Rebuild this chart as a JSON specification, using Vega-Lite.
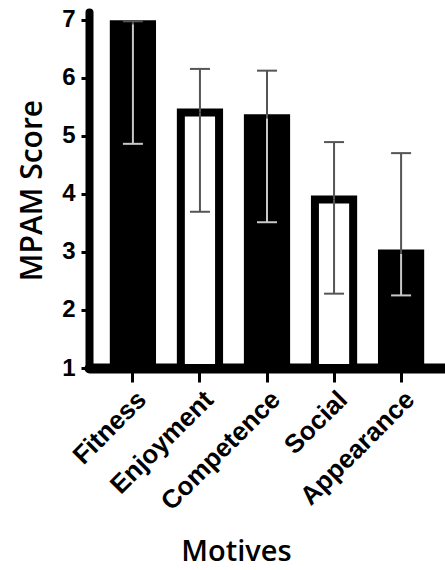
{
  "$schema": "https://vega.github.io/schema/vega-lite/v6.json",
  "width": 356,
  "height": 356,
  "autosize": "none",
  "padding": {"left": 89, "top": 12, "right": 0, "bottom": 202},
  "background": "white",
  "config": {"view": {"stroke": null}},
  "data": {
    "values": [
      {"motive": "Fitness", "group": "solid", "mean": 6.92, "lo": 4.86, "hi": 6.97},
      {"motive": "Enjoyment", "group": "open", "mean": 5.4, "lo": 3.69, "hi": 6.15},
      {"motive": "Competence", "group": "solid", "mean": 5.3, "lo": 3.51, "hi": 6.12},
      {"motive": "Social", "group": "open", "mean": 3.9, "lo": 2.28, "hi": 4.89},
      {"motive": "Appearance", "group": "solid", "mean": 2.97, "lo": 2.25, "hi": 4.7}
    ]
  },
  "encoding": {
    "x": {
      "field": "motive",
      "type": "nominal",
      "sort": null,
      "title": "Motives",
      "scale": {"paddingInner": 0.43, "paddingOuter": 0.37},
      "axis": {
        "domainColor": "black",
        "domainWidth": 10,
        "domainCap": "round",
        "tickColor": "black",
        "tickWidth": 3,
        "tickSize": 14,
        "labelAngle": -45,
        "labelFont": "Liberation Sans",
        "labelFontWeight": "bold",
        "labelFontSize": 26,
        "labelColor": "black",
        "labelPadding": 4,
        "titleFont": "Open Sans",
        "titleFontSize": 29,
        "titleFontWeight": 600,
        "titleColor": "black",
        "titlePadding": 23,
        "titleX": 147,
        "grid": false
      }
    }
  },
  "layer": [
    {
      "mark": {"type": "bar", "stroke": "black", "strokeWidth": 8, "strokeJoin": "miter"},
      "encoding": {
        "y": {
          "field": "mean",
          "type": "quantitative",
          "title": "MPAM Score",
          "scale": {"domain": [1, 7.13], "nice": false, "zero": false},
          "axis": {
            "values": [1, 2, 3, 4, 5, 6, 7],
            "format": "d",
            "domainColor": "black",
            "domainWidth": 8,
            "domainCap": "round",
            "tickColor": "black",
            "tickWidth": 3,
            "tickSize": 8,
            "labelFont": "Liberation Sans",
            "labelFontWeight": "bold",
            "labelFontSize": 24,
            "labelColor": "black",
            "labelPadding": 6,
            "titleFont": "Open Sans",
            "titleFontSize": 30,
            "titleFontWeight": 600,
            "titleColor": "black",
            "titlePadding": 14,
            "grid": false
          }
        },
        "y2": {"datum": 1},
        "fill": {
          "field": "group",
          "type": "nominal",
          "scale": {"domain": ["solid", "open"], "range": ["black", "white"]},
          "legend": null
        }
      }
    },
    {
      "mark": {"type": "rule", "strokeWidth": 2},
      "encoding": {
        "y": {"field": "lo", "type": "quantitative"},
        "y2": {"field": "mean"},
        "color": {
          "field": "group",
          "type": "nominal",
          "scale": {"domain": ["solid", "open"], "range": ["#c8c8c8", "#555555"]},
          "legend": null
        }
      }
    },
    {
      "mark": {"type": "rule", "strokeWidth": 2, "color": "#555555"},
      "encoding": {
        "y": {"field": "mean", "type": "quantitative"},
        "y2": {"field": "hi"}
      }
    },
    {
      "mark": {"type": "tick", "thickness": 2, "size": 20, "opacity": 1},
      "encoding": {
        "y": {"field": "lo", "type": "quantitative"},
        "color": {"field": "group", "type": "nominal", "legend": null}
      }
    },
    {
      "mark": {"type": "tick", "thickness": 2, "size": 20, "opacity": 1, "color": "#555555"},
      "encoding": {
        "y": {"field": "hi", "type": "quantitative"}
      }
    }
  ]
}
